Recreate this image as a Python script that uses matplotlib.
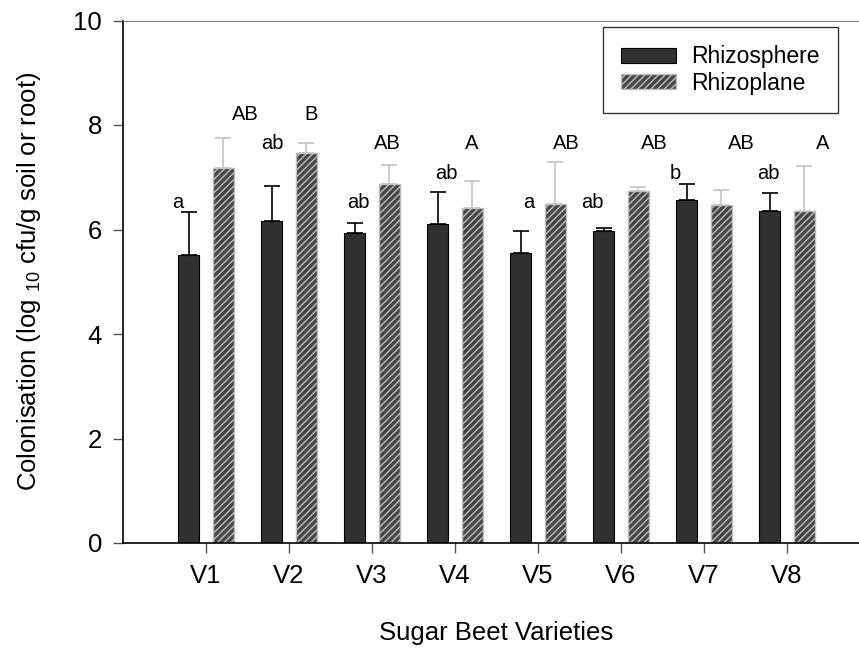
import numpy as np
import matplotlib.pyplot as plt

plt.rcParams['font.family'] = ['Liberation Sans', 'DejaVu Sans']
plt.rcParams['mathtext.fontset'] = 'custom'
plt.rcParams['mathtext.rm'] = 'Liberation Sans'
plt.rcParams['hatch.linewidth'] = 1.0

# sugar beet varieties
varieties = ['V1', 'V2', 'V3', 'V4', 'V5', 'V6', 'V7', 'V8']

# colonisation means (log10 cfu/g) and upper errors
rhizosphere = [5.52, 6.16, 5.93, 6.11, 5.55, 5.97, 6.57, 6.36]
rhizosphere_err = [0.82, 0.67, 0.20, 0.60, 0.43, 0.05, 0.31, 0.34]
rhizoplane = [7.17, 7.46, 6.88, 6.42, 6.49, 6.74, 6.47, 6.36]
rhizoplane_err = [0.59, 0.19, 0.35, 0.51, 0.81, 0.07, 0.29, 0.85]

# significance letters
sphere_letters = ['a', 'ab', 'ab', 'ab', 'a', 'ab', 'b', 'ab']
plane_letters = ['AB', 'B', 'AB', 'A', 'AB', 'AB', 'AB', 'A']
sphere_letter_x = [0.66, 1.80, 2.84, 3.90, 4.89, 5.66, 6.65, 7.77]
sphere_letter_y = [6.52, 7.65, 6.52, 7.07, 6.52, 6.52, 7.07, 7.07]
plane_letter_x = [1.47, 2.27, 3.19, 4.20, 5.34, 6.40, 7.45, 8.43]
plane_letter_y = [8.21, 8.21, 7.65, 7.65, 7.65, 7.65, 7.65, 7.65]

x = np.arange(1, len(varieties) + 1)
width = 0.26
offset = 0.21

fig = plt.figure(figsize=(8.59, 6.53), dpi=100)
ax = fig.add_axes([123 / 859, 110 / 653, 747 / 859, 522.5 / 653])

zeros = np.zeros(len(varieties))
ax.bar(x - offset, rhizosphere, width, color='#303030', edgecolor='black',
       linewidth=0.8, label='Rhizosphere', zorder=2)
ax.errorbar(x - offset, rhizosphere, yerr=[zeros, rhizosphere_err], fmt='none',
            ecolor='black', elinewidth=1.2, capsize=6, capthick=1.2, zorder=3)

ax.bar(x + offset, rhizoplane, width, color='#474747', edgecolor='#bdbdbd',
       hatch='/////', linewidth=1.0, label='Rhizoplane', zorder=2)
ax.errorbar(x + offset, rhizoplane, yerr=[zeros, rhizoplane_err], fmt='none',
            ecolor='#c4c4c4', elinewidth=1.2, capsize=6, capthick=1.2, zorder=3)

for lx, ly, t in zip(sphere_letter_x, sphere_letter_y, sphere_letters):
    ax.text(lx, ly, t, ha='center', va='center', fontsize=14.5)
for lx, ly, t in zip(plane_letter_x, plane_letter_y, plane_letters):
    ax.text(lx, ly, t, ha='center', va='center', fontsize=14.5)

ax.set_xlim(0, 9)
ax.set_ylim(0, 10)
ax.set_xticks(x)
ax.set_xticklabels(varieties)
ax.set_yticks([0, 2, 4, 6, 8, 10])

ax.spines['right'].set_visible(False)
ax.spines['top'].set_color('#808080')
ax.spines['left'].set_linewidth(1.2)
ax.spines['bottom'].set_linewidth(1.2)
ax.tick_params(axis='both', direction='out', length=7, width=1,
               color='#555555', labelsize=18.5, pad=8)

ax.set_xlabel('Sugar Beet Varieties', fontsize=18.5, labelpad=24)
ax.set_ylabel('Colonisation (log $_{10}$ cfu/g soil or root)', fontsize=18.5,
              labelpad=22)

leg = ax.legend(loc='upper right', bbox_to_anchor=(838 / 859, 1 - 27 / 653),
                bbox_transform=fig.transFigure, fontsize=16.5, frameon=True,
                fancybox=False, edgecolor='black', handlelength=2.4,
                handleheight=0.65, handletextpad=0.65, labelspacing=0.15,
                borderpad=0.8, borderaxespad=0)
leg.get_frame().set_linewidth(1.0)

fig.savefig('out.png', dpi=100)
